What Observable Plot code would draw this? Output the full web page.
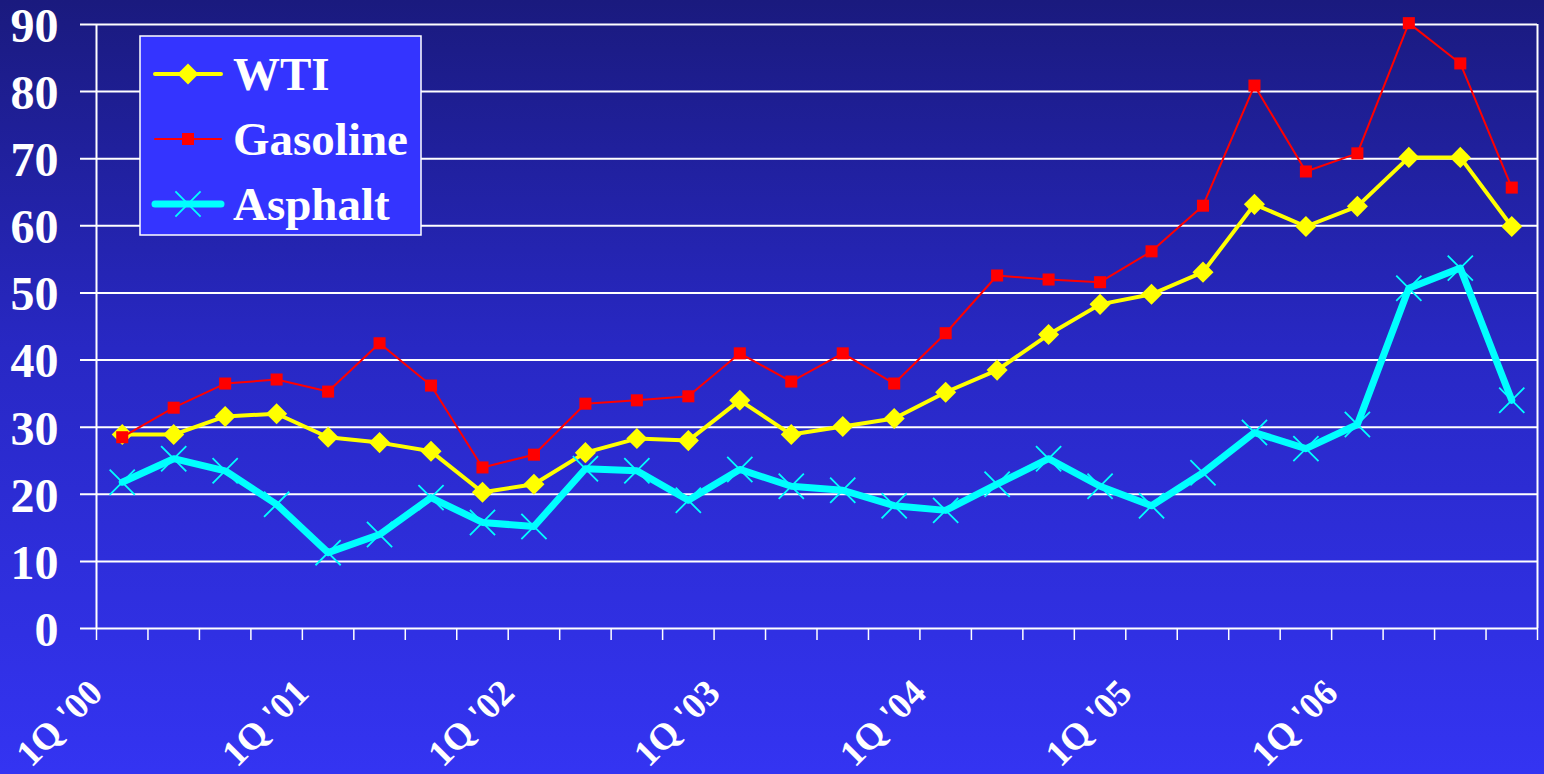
<!DOCTYPE html>
<html>
<head>
<meta charset="utf-8">
<script src="https://cdn.jsdelivr.net/npm/d3@7"></script>
<script src="https://cdn.jsdelivr.net/npm/@observablehq/plot@0.6"></script>
<style>
  html, body { margin: 0; padding: 0; background: #2a2ad0; }
  #chart svg { display: block; }
</style>
</head>
<body>
<div id="chart"></div>
<script>
const quarters = [
  "1Q '00","2Q '00","3Q '00","4Q '00",
  "1Q '01","2Q '01","3Q '01","4Q '01",
  "1Q '02","2Q '02","3Q '02","4Q '02",
  "1Q '03","2Q '03","3Q '03","4Q '03",
  "1Q '04","2Q '04","3Q '04","4Q '04",
  "1Q '05","2Q '05","3Q '05","4Q '05",
  "1Q '06","2Q '06","3Q '06","4Q '06"
];
const wti = [28.9, 28.9, 31.6, 32.0, 28.5, 27.7, 26.4, 20.3, 21.5, 26.2, 28.3, 28.0,
             34.0, 28.9, 30.1, 31.3, 35.2, 38.5, 43.8, 48.3, 49.8, 53.1, 63.2, 59.9,
             62.9, 70.2, 70.2, 59.9];
const gasoline = [28.5, 32.9, 36.5, 37.1, 35.3, 42.5, 36.2, 24.0, 25.9, 33.5, 34.0, 34.6,
                  41.0, 36.8, 41.0, 36.5, 44.0, 52.6, 52.0, 51.6, 56.2, 63.0, 80.9, 68.1,
                  70.8, 90.2, 84.2, 65.7];
const asphalt = [21.8, 25.3, 23.5, 18.5, 11.3, 14.0, 19.5, 15.8, 15.2, 23.8, 23.5, 19.1,
                 23.7, 21.2, 20.6, 18.3, 17.6, 21.5, 25.3, 21.2, 18.3, 23.2, 29.2, 26.8,
                 30.4, 50.7, 53.7, 34.0];
const yTicks = [0, 10, 20, 30, 40, 50, 60, 70, 80, 90];
const seriesNames = ["WTI", "Gasoline", "Asphalt"];

const toRows = vals => vals.map((v, i) => ({i, q: quarters[i], v}));
const wtiRows = toRows(wti), gasRows = toRows(gasoline), aspRows = toRows(asphalt);
const boundaries = d3.range(quarters.length + 1).map(k => k - 0.5);
const yearStarts = quarters.map((q, i) => ({i, q})).filter(d => d.q.startsWith("1Q"));

const FONT = "'Liberation Serif', 'Times New Roman', serif";

const chart = Plot.plot({
  width: 1544,
  height: 774,
  marginLeft: 96,
  marginRight: 7,
  marginTop: 24,
  marginBottom: 146,
  style: {
    background: "linear-gradient(to bottom, #1a1a7e 0%, #2828c4 45%, #3434f2 100%)",
    fontFamily: FONT,
    color: "white",
    overflow: "visible"
  },
  x: {type: "linear", domain: [-0.5, quarters.length - 0.5], axis: null},
  y: {domain: [0, 90], axis: null},
  marks: [
    Plot.ruleY(yTicks, {y: d => d, stroke: "white", strokeWidth: 2, insetLeft: -16}),
    Plot.ruleX([boundaries[0]], {x: d => d, stroke: "white", strokeWidth: 2}),
    Plot.ruleX([boundaries[boundaries.length - 1]], {x: d => d, stroke: "white", strokeWidth: 2}),
    Plot.ruleX(boundaries, {x: d => d, y1: 0, y2: 0, insetBottom: -12, stroke: "white", strokeWidth: 1.5}),
    Plot.text(yTicks, {
      frameAnchor: "left", y: d => d, text: d => String(d), textAnchor: "end",
      dx: -38, dy: 2, fontSize: 48, fontWeight: "bold", fill: "white", lineAnchor: "middle"
    }),
    Plot.text(yearStarts, {
      x: "i", frameAnchor: "bottom", text: "q", rotate: -45, textAnchor: "end",
      lineAnchor: "middle", dx: -26, dy: 58, fontSize: 37, fontWeight: "bold", fill: "white"
    }),
    Plot.line(wtiRows, {x: "i", y: "v", stroke: "#ffff00", strokeWidth: 4}),
    Plot.dot(wtiRows, {x: "i", y: "v", symbol: "diamond2", r: 9.5, fill: "#ffff00", stroke: "none"}),
    Plot.line(gasRows, {x: "i", y: "v", stroke: "#ff0000", strokeWidth: 2}),
    Plot.dot(gasRows, {x: "i", y: "v", symbol: "square", r: 6.8, fill: "#ff0000", stroke: "none"}),
    Plot.line(aspRows, {x: "i", y: "v", stroke: "#00ffff", strokeWidth: 7}),
    Plot.dot(aspRows, {x: "i", y: "v", symbol: "times", r: 11.5, stroke: "#00ffff", strokeWidth: 1.8, fill: "none"})
  ]
});

document.getElementById("chart").appendChild(chart);

const svg = d3.select(chart);
const lg = svg.append("g").attr("transform", "translate(140,36)");
lg.append("rect").attr("x", 0).attr("y", 0).attr("width", 281).attr("height", 199)
  .attr("fill", "#3434ff").attr("stroke", "white").attr("stroke-width", 1.5);
const legendStyles = [
  {stroke: "#ffff00", width: 4, symbol: d3.symbolDiamond2, size: Math.PI * 9.5 * 9.5, fill: "#ffff00", mstroke: "none"},
  {stroke: "#ff0000", width: 2, symbol: d3.symbolSquare, size: Math.PI * 6.8 * 6.8, fill: "#ff0000", mstroke: "none"},
  {stroke: "#00ffff", width: 7, symbol: d3.symbolTimes, size: Math.PI * 11.5 * 11.5, fill: "none", mstroke: "#00ffff"}
];
seriesNames.forEach((name, k) => {
  const st = legendStyles[k];
  const cy = 38 + k * 65;
  const g = lg.append("g").attr("transform", `translate(0,${cy})`);
  g.append("line").attr("x1", 15).attr("x2", 81).attr("y1", 0).attr("y2", 0)
    .attr("stroke", st.stroke).attr("stroke-width", st.width).attr("stroke-linecap", "round");
  g.append("path").attr("d", d3.symbol(st.symbol, st.size)())
    .attr("transform", "translate(48,0)")
    .attr("fill", st.fill).attr("stroke", st.mstroke).attr("stroke-width", 1.8);
  g.append("text").attr("x", 93).attr("y", 16).text(name)
    .attr("text-anchor", "start")
    .attr("fill", "white").attr("font-family", FONT).attr("font-weight", "bold")
    .attr("font-size", 47);
});
</script>
</body>
</html>
